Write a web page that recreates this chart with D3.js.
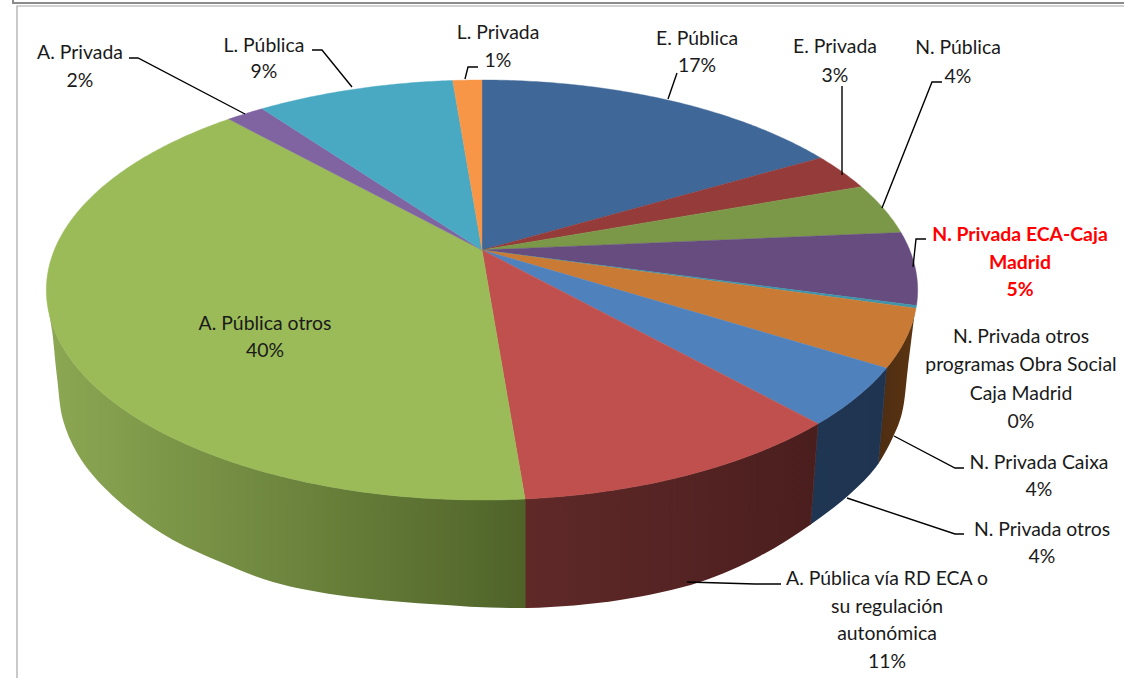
<!DOCTYPE html>
<html><head><meta charset="utf-8">
<script src="https://cdn.jsdelivr.net/npm/d3@7"></script>
<style>html,body{margin:0;background:#fff}svg{display:block}text{font-family:Lato,"Open Sans",sans-serif;font-size:19.4px;fill:#1a1a1a}</style>
</head><body><svg id="c" width="1124" height="678"></svg>
<script>
// Data
const categories = ["E. Pública","E. Privada","N. Pública","N. Privada ECA-Caja Madrid","N. Privada otros programas Obra Social Caja Madrid","N. Privada Caixa","N. Privada otros","A. Pública vía RD ECA o su regulación autonómica","A. Pública otros","A. Privada","L. Pública","L. Privada"];
const values = [16.7,2.9,4.0,5.6,0.2,4.4,4.4,10.5,39.5,1.7,8.8,1.3];
const percentLabels = ["17%","3%","4%","5%","0%","4%","4%","11%","40%","2%","9%","1%"];
// Styles
const topColors = ["#3f6797","#953b39","#7b9849","#664c7f","#3d96ab","#c97a35","#4f81bd","#c0504d","#9bbb59","#8064a2","#49a9c3","#f79646"];
const wallStops = [["#2a4566","#2a4566"],["#5a2625","#5a2625"],["#55692f","#55692f"],["#443355","#443355"],["#276b7a","#276b7a"],["#4c2c12","#5c3512"],["#1f3652","#1f3450"],["#5f2928","#4b1e1e"],["#8ca853","#4f6329"],["#55426e","#55426e"],["#2f7f95","#2f7f95"],["#a9651f","#a9651f"]];
// Label layout: wrapped lines, centre x, first baseline, leader polyline
const labelLines = [["E. Pública"],["E. Privada"],["N. Pública"],["N. Privada ECA-Caja","Madrid"],["N. Privada otros","programas Obra Social","Caja Madrid"],["N. Privada Caixa"],["N. Privada otros"],["A. Pública vía RD ECA o","su regulación","autonómica"],["A. Pública otros"],["A. Privada"],["L. Pública"],["L. Privada"]];
const labelX = [697,835,958,1020,1021,1039,1042,887,265,80,264,498];
const labelY = [45,53,54,241,343,469,536,585,330,59,52,39];
const lineGap = [27,29,29,27.5,28.3,27,26.5,27.7,27,28,26,28];
const leaders = [
 [[677,73],[668,99]],
 [[842,86],[842,175]],
 [[942,82],[932,82],[882,208]],
 [[926,239],[916,239],[913,267]],
 null,
 [[964,468],[955,468],[894,436]],
 [[964,534],[955,534],[847,498]],
 [[781,584],[755,584],[687,582]],
 null,
 [[129,58],[138,58],[245,114]],
 [[312,50],[322,50],[352,87]],
 [[478,67],[468,67],[465,79]]
];
// Outline of the pie's lower edge
const lowerEdgeX = [48,52,57,63,77,97,133,173,223,273,337,430,527,620,700,760,810,850,876,893,902,908,915];
const lowerEdgeY = [307,330,377,420,453,480,513,540,563,582,595,604,608,600,582,556,525,494,467,437,413,367,310];

const svg = d3.select("#c");
const defs = svg.append("defs");

// Perspective projection of the pie plane: circle -> ellipse, centre -> apex
const cx=482, apexY=250, k=-0.1905, b=202.4, c=427.7;
const project = (X,Y)=>{const w=1+k*Y;return [cx+c*X/w, apexY+b*Y/w];};
const rim = a=>project(Math.sin(a),-Math.cos(a));
// Top rim -> lower edge (walls overshoot a little; the smooth clip below trims them)
const overshoot=30;
const lowerX = d3.scaleLinear().domain([47,526,819,887,917]).range([48,526,809,876,915]).clamp(true);
const lowerY = d3.scaleLinear().domain(lowerEdgeX).range(lowerEdgeY).clamp(true);
const lower = ([x])=>{const lx=lowerX(x);return [lx,lowerY(lx)+overshoot];};

const arcs = d3.pie().sort(null).value(d=>d)(values);
const sample=(s,e)=>{const n=Math.max(2,Math.ceil((e-s)/0.01));return d3.range(n+1).map(i=>s+(e-s)*i/n);};
const line=d3.line();

const edge=d3.line().curve(d3.curveCatmullRom)(lowerEdgeX.map((x,i)=>[x,lowerEdgeY[i]]));
defs.append("clipPath").attr("id","wallClip").append("path")
  .attr("d",edge+`L${d3.max(lowerEdgeX)},0L${d3.min(lowerEdgeX)},0Z`);
const walls=svg.append("g").attr("clip-path","url(#wallClip)");

// Walls: only the front half of the rim shows
arcs.forEach((d,i)=>{
  const up=sample(d.startAngle,d.endAngle).map(rim).filter(p=>p[1]>=290);
  if(up.length<2) return;
  const pts=up.concat(up.map(lower).reverse());
  const ex=d3.extent(pts,p=>p[0]), id="w"+i;
  const g=defs.append("linearGradient").attr("id",id).attr("gradientUnits","userSpaceOnUse")
    .attr("x1",ex[0]).attr("x2",ex[1]).attr("y1",0).attr("y2",0);
  g.append("stop").attr("offset",0).attr("stop-color",wallStops[i][0]);
  g.append("stop").attr("offset",1).attr("stop-color",wallStops[i][1]);
  walls.append("path").attr("d",line(pts)+"Z").attr("fill",`url(#${id})`).attr("stroke",`url(#${id})`).attr("stroke-width",0.6);
});

// Top faces
svg.append("g").selectAll("path").data(arcs).join("path")
  .attr("d",d=>line([project(0,0)].concat(sample(d.startAngle,d.endAngle).map(rim)))+"Z")
  .attr("fill",(d,i)=>topColors[i]).attr("stroke",(d,i)=>topColors[i]).attr("stroke-width",0.4);

// Frame
const frame=[[[13,0],[13,3],[1124,3]],[[17,678],[17,6],[1124,6]]];
svg.append("g").selectAll("path").data(frame).join("path").attr("d",line).attr("fill","none")
  .attr("stroke",(d,i)=>i?"#a6a6a6":"#8c8c8c").attr("stroke-width",(d,i)=>i?1.2:2);

// Leaders
svg.append("g").selectAll("path").data(leaders.filter(Boolean)).join("path").attr("d",line)
  .attr("fill","none").attr("stroke","#000").attr("stroke-width",1.4);

// Labels
categories.forEach((cat,i)=>{
  const t=svg.append("text").attr("text-anchor","middle");
  const lines=labelLines[i].concat([percentLabels[i]]);
  lines.forEach((s,j)=>t.append("tspan").attr("x",labelX[i]).attr("y",labelY[i]+j*lineGap[i]).text(s));
  if(i===3) t.style("fill","#ff0000").style("font-weight","700");
});
</script></body></html>
